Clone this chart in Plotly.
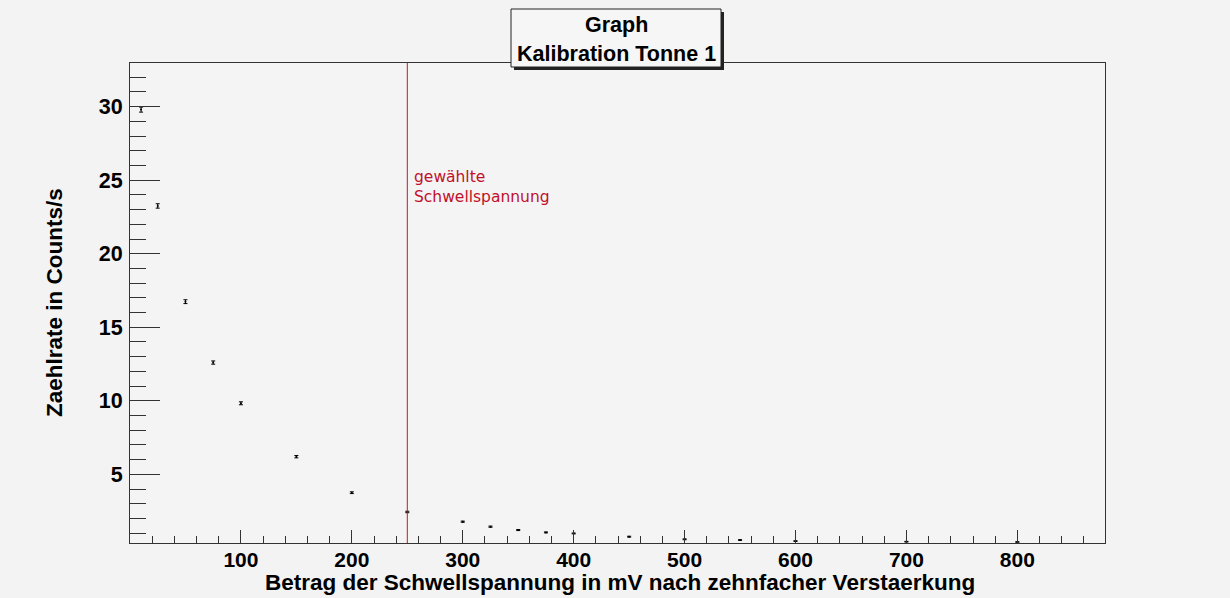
import plotly.graph_objects as go

# Threshold scan of detector barrel 1: count rate vs. threshold voltage
schwelle_mv = [10, 25, 50, 75, 100, 150, 200, 250, 300, 325, 350, 375, 400,
               450, 500, 550, 600, 700, 800]
zaehlrate = [29.8, 23.25, 16.74, 12.6, 9.83, 6.2, 3.75, 2.44, 1.78, 1.44,
             1.21, 1.05, 0.98, 0.76, 0.58, 0.53, 0.46, 0.42, 0.40]
fehler = [0.17, 0.15, 0.13, 0.11, 0.1, 0.08, 0.06, 0.05, 0.04, 0.04,
          0.035, 0.03, 0.03, 0.03, 0.03, 0.025, 0.025, 0.02, 0.02]

x_ticks = [100, 200, 300, 400, 500, 600, 700, 800]
y_ticks = [5, 10, 15, 20, 25, 30]

schwelle_gewaehlt = 250

W, H = 1230, 598
L, R, T, B = 130, 125, 63, 55
PW, PH = W - L - R, H - T - B


def px(xp):
    return (xp - L) / PW


def py(yp):
    return (H - B - yp) / PH


fig = go.Figure()
fig.add_trace(go.Scatter(
    x=schwelle_mv, y=zaehlrate, mode="markers",
    marker=dict(color="black", size=2),
    error_y=dict(type="data", array=fehler, visible=True,
                 color="black", thickness=1, width=2),
    showlegend=False,
))

axis_font = dict(family="Liberation Sans", size=22.5, color="black")

fig.update_layout(
    width=W, height=H,
    margin=dict(l=L, r=R, t=T, b=B),
    paper_bgcolor="#f3f3f3",
    plot_bgcolor="#f4f4f4",
    xaxis=dict(
        range=[0, 879], showgrid=False, zeroline=False,
        showline=True, linecolor="#333333", linewidth=1, mirror=True,
        ticks="inside", ticklen=13, tickcolor="#333333",
        tickvals=x_ticks, ticktext=[str(v) for v in x_ticks],
        minor=dict(ticks="inside", ticklen=7, dtick=20, tick0=0, tickcolor="#333333"),
        tickfont=dict(family="Liberation Sans", size=21, color="black", weight="bold"),
        ticklabelstandoff=-2,
    ),
    yaxis=dict(
        range=[0.33, 32.97], showgrid=False, zeroline=False,
        showline=True, linecolor="#333333", linewidth=1, mirror=True,
        ticks="inside", ticklen=30, tickcolor="#333333",
        tickvals=y_ticks, ticktext=[str(v) for v in y_ticks],
        minor=dict(ticks="inside", ticklen=16, dtick=1, tick0=0, tickcolor="#333333"),
        tickfont=dict(family="Liberation Sans", size=21.5, color="black", weight="bold"),
        ticklabelstandoff=2,
    ),
)

# Chosen threshold marker line
fig.add_shape(type="line", xref="x", yref="paper",
              x0=schwelle_gewaehlt, x1=schwelle_gewaehlt, y0=0, y1=1,
              line=dict(color="#b81c2e", width=1))

fig.add_annotation(xref="paper", yref="paper", x=px(412), y=py(166),
                   xanchor="left", yanchor="top", align="left",
                   text="gewählte<br>Schwellspannung", showarrow=False,
                   font=dict(family="DejaVu Sans", size=15.5, color="#c0102a"))

# Title box with drop shadow
fig.add_shape(type="rect", xref="paper", yref="paper", layer="above",
              x0=px(514), x1=px(724), y0=py(70), y1=py(12),
              fillcolor="#222222", line=dict(width=0))
fig.add_shape(type="rect", xref="paper", yref="paper", layer="above",
              x0=px(511), x1=px(721), y0=py(67), y1=py(9),
              fillcolor="#f6f6f6", line=dict(color="#222222", width=1))
fig.add_annotation(xref="paper", yref="paper", x=px(616), y=py(25),
                   xanchor="center", yanchor="middle",
                   text="<b>Graph</b>", showarrow=False,
                   font=dict(family="Liberation Sans", size=21.5, color="black"))
fig.add_annotation(xref="paper", yref="paper", x=px(616), y=py(54),
                   xanchor="center", yanchor="middle",
                   text="<b>Kalibration Tonne 1</b>", showarrow=False,
                   font=dict(family="Liberation Sans", size=21.5, color="black"))

# Axis titles
fig.add_annotation(xref="paper", yref="paper", x=px(620), y=py(582),
                   xanchor="center", yanchor="middle",
                   text="<b>Betrag der Schwellspannung in mV nach zehnfacher Verstaerkung</b>",
                   showarrow=False, font=axis_font)
fig.add_annotation(xref="paper", yref="paper", x=px(54), y=py(303),
                   xanchor="center", yanchor="middle",
                   text="<b>Zaehlrate in Counts/s</b>", textangle=-90,
                   showarrow=False, font=axis_font)

fig.write_html("out.html")
